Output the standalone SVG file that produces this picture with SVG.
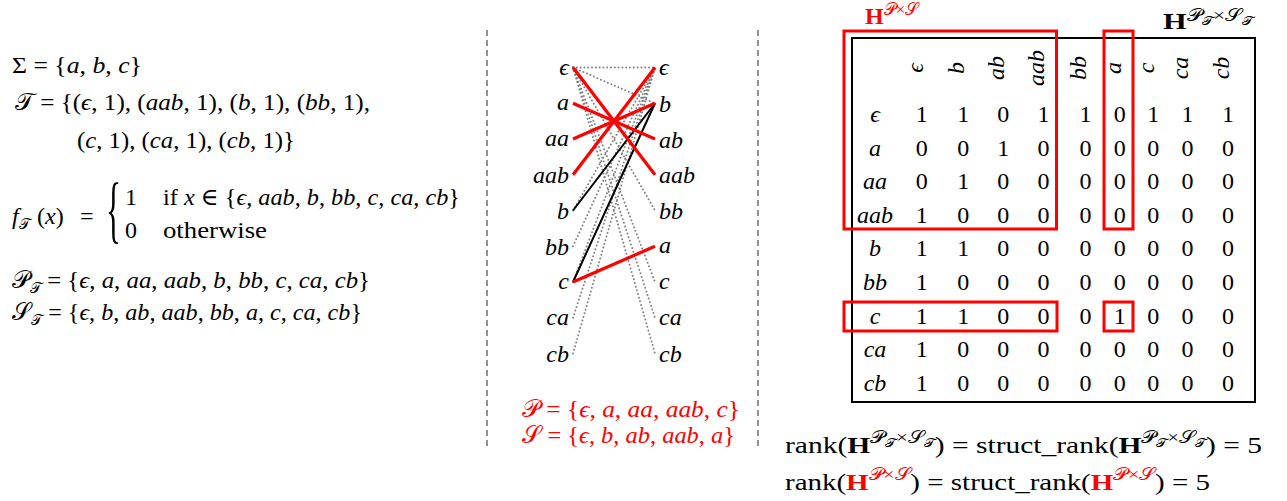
<svg xmlns="http://www.w3.org/2000/svg" width="1287" height="501" viewBox="0 0 1287 501">
<style>
.t{font-family:"Liberation Serif","DejaVu Serif",serif;font-size:24px;fill:#000}
.i{font-style:italic}
.b{font-weight:bold}
.r{fill:#ff0000}
.sup{font-size:17px;font-weight:normal}
.sub{font-size:12px;font-weight:normal}
.dot{stroke:#808080;stroke-width:2;stroke-dasharray:0 3.8;stroke-linecap:round;fill:none}
.blk{stroke:#000;stroke-width:2;fill:none}
.red{stroke:#ff0000;stroke-width:3.2;fill:none}
.sep{stroke:#888;stroke-width:1.8;stroke-dasharray:6 4;fill:none}
.box{stroke:#000;stroke-width:2;fill:none}
.rbox{stroke:#ff0000;stroke-width:3;fill:none}
.lab{text-anchor:end}
.mid{text-anchor:middle}
</style>
<rect width="1287" height="501" fill="#fff"/>

<g id="definitions">
<text class="t" x="12" y="73" textLength="130" lengthAdjust="spacingAndGlyphs">Σ = {<tspan class="i">a</tspan>, <tspan class="i">b</tspan>, <tspan class="i">c</tspan>}</text>
<text class="t" x="15" y="110" textLength="355" lengthAdjust="spacingAndGlyphs">𝒯 = {(<tspan class="i">ϵ</tspan>, 1), (<tspan class="i">aab</tspan>, 1), (<tspan class="i">b</tspan>, 1), (<tspan class="i">bb</tspan>, 1),</text>
<text class="t" x="77" y="148" textLength="218" lengthAdjust="spacingAndGlyphs">(<tspan class="i">c</tspan>, 1), (<tspan class="i">ca</tspan>, 1), (<tspan class="i">cb</tspan>, 1)}</text>
<text class="t" y="224"><tspan class="i" x="12">f</tspan><tspan dy="5" font-size="15">𝒯</tspan><tspan dy="-5" x="37">(</tspan><tspan class="i">x</tspan>)<tspan x="80">=</tspan></text>
<text class="t" transform="translate(106,234) scale(1.3,3.1)">{</text>
<text class="t" x="125" y="205">1</text>
<text class="t" x="163" y="205" textLength="297" lengthAdjust="spacingAndGlyphs">if <tspan class="i">x</tspan> ∈ {<tspan class="i">ϵ</tspan>, <tspan class="i">aab</tspan>, <tspan class="i">b</tspan>, <tspan class="i">bb</tspan>, <tspan class="i">c</tspan>, <tspan class="i">ca</tspan>, <tspan class="i">cb</tspan>}</text>
<text class="t" x="125" y="238">0</text>
<text class="t" x="163" y="238" textLength="104" lengthAdjust="spacingAndGlyphs">otherwise</text>
<text class="t" x="12" y="288" textLength="358" lengthAdjust="spacingAndGlyphs">𝒫<tspan dy="5" font-size="15">𝒯</tspan><tspan dy="-5"> = {</tspan><tspan class="i">ϵ</tspan>, <tspan class="i">a</tspan>, <tspan class="i">aa</tspan>, <tspan class="i">aab</tspan>, <tspan class="i">b</tspan>, <tspan class="i">bb</tspan>, <tspan class="i">c</tspan>, <tspan class="i">ca</tspan>, <tspan class="i">cb</tspan>}</text>
<text class="t" x="12" y="320" textLength="350" lengthAdjust="spacingAndGlyphs">𝒮<tspan dy="5" font-size="15">𝒯</tspan><tspan dy="-5"> = {</tspan><tspan class="i">ϵ</tspan>, <tspan class="i">b</tspan>, <tspan class="i">ab</tspan>, <tspan class="i">aab</tspan>, <tspan class="i">bb</tspan>, <tspan class="i">a</tspan>, <tspan class="i">c</tspan>, <tspan class="i">ca</tspan>, <tspan class="i">cb</tspan>}</text>
</g>

<g id="separators">
<line class="sep" x1="487" y1="30" x2="487" y2="448"/>
<line class="sep" x1="758" y1="30" x2="758" y2="448"/>
</g>

<g id="connectors">
<line class="dot" x1="573" y1="67.5" x2="655" y2="67.5"/>
<line class="dot" x1="573" y1="67.5" x2="655" y2="103.25"/>
<line class="dot" x1="573" y1="67.5" x2="655" y2="210.5"/>
<line class="dot" x1="573" y1="67.5" x2="655" y2="282"/>
<line class="dot" x1="573" y1="67.5" x2="655" y2="317.75"/>
<line class="dot" x1="573" y1="67.5" x2="655" y2="353.5"/>
<line class="dot" x1="573" y1="210.5" x2="655" y2="67.5"/>
<line class="dot" x1="573" y1="246.25" x2="655" y2="67.5"/>
<line class="dot" x1="573" y1="282" x2="655" y2="67.5"/>
<line class="dot" x1="573" y1="317.75" x2="655" y2="67.5"/>
<line class="dot" x1="573" y1="353.5" x2="655" y2="67.5"/>
<line class="blk" x1="573" y1="210.5" x2="655" y2="103.25"/>
<line class="blk" x1="573" y1="282" x2="655" y2="103.25"/>
<line class="red" x1="573" y1="67.5" x2="655" y2="174.75"/>
<line class="red" x1="573" y1="103.25" x2="655" y2="139"/>
<line class="red" x1="573" y1="139" x2="655" y2="103.25"/>
<line class="red" x1="573" y1="174.75" x2="655" y2="67.5"/>
<line class="red" x1="573" y1="282" x2="655" y2="246.25"/>
</g>

<g id="prefix-nodes" class="t i lab">
<g id="p-eps"><text x="569" y="74.5">ϵ</text></g>
<g id="p-a"><text x="569" y="110">a</text></g>
<g id="p-aa"><text x="569" y="146">aa</text></g>
<g id="p-aab"><text x="569" y="183">aab</text></g>
<g id="p-b"><text x="569" y="219">b</text></g>
<g id="p-bb"><text x="569" y="254.5">bb</text></g>
<g id="p-c"><text x="569" y="289">c</text></g>
<g id="p-ca"><text x="569" y="324.5">ca</text></g>
<g id="p-cb"><text x="569" y="362">cb</text></g>
</g>
<g id="suffix-nodes" class="t i">
<g id="s-eps"><text x="659" y="74.5">ϵ</text></g>
<g id="s-b"><text x="659" y="111.5">b</text></g>
<g id="s-ab"><text x="659" y="147.5">ab</text></g>
<g id="s-aab"><text x="659" y="183">aab</text></g>
<g id="s-bb"><text x="659" y="219">bb</text></g>
<g id="s-a"><text x="659" y="253">a</text></g>
<g id="s-c"><text x="659" y="289">c</text></g>
<g id="s-ca"><text x="659" y="324.5">ca</text></g>
<g id="s-cb"><text x="659" y="362">cb</text></g>
</g>

<g id="selected-sets" class="t r">
<text x="522" y="417" textLength="218" lengthAdjust="spacingAndGlyphs">𝒫 = {<tspan class="i">ϵ</tspan>, <tspan class="i">a</tspan>, <tspan class="i">aa</tspan>, <tspan class="i">aab</tspan>, <tspan class="i">c</tspan>}</text>
<text x="522" y="443" textLength="213" lengthAdjust="spacingAndGlyphs">𝒮 = {<tspan class="i">ϵ</tspan>, <tspan class="i">b</tspan>, <tspan class="i">ab</tspan>, <tspan class="i">aab</tspan>, <tspan class="i">a</tspan>}</text>
</g>

<g id="matrix">
<rect class="box" x="852" y="38" width="403" height="364"/>
<text class="t b r" x="865" y="24">H<tspan class="sup" dy="-9">𝒫×𝒮</tspan></text>
<text class="t b" x="1163" y="29" textLength="90" lengthAdjust="spacingAndGlyphs">H<tspan class="sup" dy="-8">𝒫</tspan><tspan class="sub" dy="4">𝒯</tspan><tspan class="sup" dy="-4">×𝒮</tspan><tspan class="sub" dy="4">𝒯</tspan></text>
<g class="t i">
<text transform="translate(922.5,68) rotate(-90)" class="mid">ϵ</text>
<text transform="translate(964,68) rotate(-90)" class="mid">b</text>
<text transform="translate(1004,68) rotate(-90)" class="mid">ab</text>
<text transform="translate(1044,68) rotate(-90)" class="mid">aab</text>
<text transform="translate(1086,68) rotate(-90)" class="mid">bb</text>
<text transform="translate(1120.5,68) rotate(-90)" class="mid">a</text>
<text transform="translate(1154,68) rotate(-90)" class="mid">c</text>
<text transform="translate(1188,68) rotate(-90)" class="mid">ca</text>
<text transform="translate(1229,68) rotate(-90)" class="mid">cb</text>
</g>
<g class="t i mid">
<text x="875" y="122">ϵ</text>
<text x="875" y="155.6">a</text>
<text x="875" y="189.2">aa</text>
<text x="875" y="222.8">aab</text>
<text x="875" y="256.4">b</text>
<text x="875" y="290">bb</text>
<text x="875" y="323.6">c</text>
<text x="875" y="357.2">ca</text>
<text x="875" y="390.8">cb</text>
</g>
<g class="t mid">
<text y="122"><tspan x="921.7">1</tspan><tspan x="963.3">1</tspan><tspan x="1003.3">0</tspan><tspan x="1043.5">1</tspan><tspan x="1085.5">1</tspan><tspan x="1119.7">0</tspan><tspan x="1153.3">1</tspan><tspan x="1187.5">1</tspan><tspan x="1228">1</tspan></text>
<text y="155.6"><tspan x="921.7">0</tspan><tspan x="963.3">0</tspan><tspan x="1003.3">1</tspan><tspan x="1043.5">0</tspan><tspan x="1085.5">0</tspan><tspan x="1119.7">0</tspan><tspan x="1153.3">0</tspan><tspan x="1187.5">0</tspan><tspan x="1228">0</tspan></text>
<text y="189.2"><tspan x="921.7">0</tspan><tspan x="963.3">1</tspan><tspan x="1003.3">0</tspan><tspan x="1043.5">0</tspan><tspan x="1085.5">0</tspan><tspan x="1119.7">0</tspan><tspan x="1153.3">0</tspan><tspan x="1187.5">0</tspan><tspan x="1228">0</tspan></text>
<text y="222.8"><tspan x="921.7">1</tspan><tspan x="963.3">0</tspan><tspan x="1003.3">0</tspan><tspan x="1043.5">0</tspan><tspan x="1085.5">0</tspan><tspan x="1119.7">0</tspan><tspan x="1153.3">0</tspan><tspan x="1187.5">0</tspan><tspan x="1228">0</tspan></text>
<text y="256.4"><tspan x="921.7">1</tspan><tspan x="963.3">1</tspan><tspan x="1003.3">0</tspan><tspan x="1043.5">0</tspan><tspan x="1085.5">0</tspan><tspan x="1119.7">0</tspan><tspan x="1153.3">0</tspan><tspan x="1187.5">0</tspan><tspan x="1228">0</tspan></text>
<text y="290"><tspan x="921.7">1</tspan><tspan x="963.3">0</tspan><tspan x="1003.3">0</tspan><tspan x="1043.5">0</tspan><tspan x="1085.5">0</tspan><tspan x="1119.7">0</tspan><tspan x="1153.3">0</tspan><tspan x="1187.5">0</tspan><tspan x="1228">0</tspan></text>
<text y="323.6"><tspan x="921.7">1</tspan><tspan x="963.3">1</tspan><tspan x="1003.3">0</tspan><tspan x="1043.5">0</tspan><tspan x="1085.5">0</tspan><tspan x="1119.7">1</tspan><tspan x="1153.3">0</tspan><tspan x="1187.5">0</tspan><tspan x="1228">0</tspan></text>
<text y="357.2"><tspan x="921.7">1</tspan><tspan x="963.3">0</tspan><tspan x="1003.3">0</tspan><tspan x="1043.5">0</tspan><tspan x="1085.5">0</tspan><tspan x="1119.7">0</tspan><tspan x="1153.3">0</tspan><tspan x="1187.5">0</tspan><tspan x="1228">0</tspan></text>
<text y="390.8"><tspan x="921.7">1</tspan><tspan x="963.3">0</tspan><tspan x="1003.3">0</tspan><tspan x="1043.5">0</tspan><tspan x="1085.5">0</tspan><tspan x="1119.7">0</tspan><tspan x="1153.3">0</tspan><tspan x="1187.5">0</tspan><tspan x="1228">0</tspan></text>
</g>
<rect class="rbox" x="844" y="31" width="212.5" height="198"/>
<rect class="rbox" x="1104" y="31" width="29" height="198"/>
<rect class="rbox" x="844" y="302" width="213" height="29"/>
<rect class="rbox" x="1104" y="302" width="29" height="29"/>
</g>

<g id="rank-formulas" class="t">
<text x="785" y="453" textLength="477" lengthAdjust="spacingAndGlyphs">rank(<tspan class="b">H</tspan><tspan class="sup" dy="-10">𝒫</tspan><tspan class="sub" dy="4">𝒯</tspan><tspan class="sup" dy="-4">×𝒮</tspan><tspan class="sub" dy="4">𝒯</tspan><tspan dy="6">) = struct_rank(</tspan><tspan class="b">H</tspan><tspan class="sup" dy="-10">𝒫</tspan><tspan class="sub" dy="4">𝒯</tspan><tspan class="sup" dy="-4">×𝒮</tspan><tspan class="sub" dy="4">𝒯</tspan><tspan dy="6">) = 5</tspan></text>
<text x="785" y="490" textLength="425" lengthAdjust="spacingAndGlyphs">rank(<tspan class="b r">H</tspan><tspan class="sup r" dy="-10">𝒫×𝒮</tspan><tspan dy="10">) = struct_rank(</tspan><tspan class="b r">H</tspan><tspan class="sup r" dy="-10">𝒫×𝒮</tspan><tspan dy="10">) = 5</tspan></text>
</g>
</svg>
